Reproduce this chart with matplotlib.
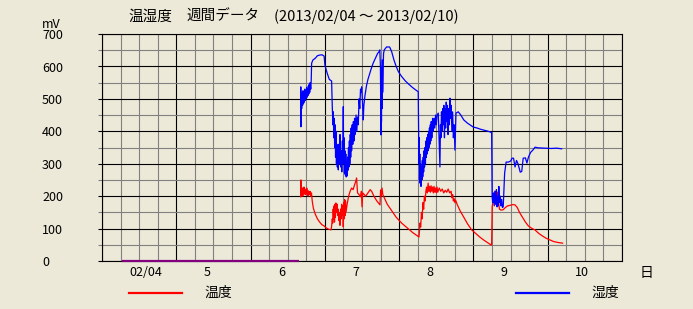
import matplotlib
matplotlib.use("Agg")
import matplotlib.pyplot as plt
import matplotlib.transforms as mtransforms
from matplotlib.lines import Line2D
import numpy as np

plt.rcParams['font.family'] = ['Noto Sans CJK JP', 'DejaVu Sans']

# ---------------- data ----------------
title_parts = ["温湿度", "週間データ", "(2013/02/04 ～ 2013/02/10)"]
y_unit = "mV"
x_unit = "日"
series_names = ["温度", "湿度"]
day_ticks = [4, 5, 6, 7, 8, 9, 10]
day_labels = ["02/04", "5", "6", "7", "8", "9", "10"]
y_ticks = [0, 100, 200, 300, 400, 500, 600, 700]
y_tick_labels = ["0", "100", "200", "300", "400", "500", "600", "700"]

# period without data (both series at 0)
nodata_days = [4.27, 6.65]
nodata_vals = [0, 0]

humid_days = [
    6.674, 6.676, 6.678, 6.682, 6.688, 6.694, 6.700, 6.706, 6.712, 6.718,
    6.724, 6.730, 6.736, 6.742, 6.748, 6.754, 6.760, 6.766, 6.772, 6.778,
    6.784, 6.790, 6.796, 6.802, 6.810, 6.816, 6.822, 6.840, 6.870, 6.900,
    6.930, 6.960, 6.990, 7.001, 7.030, 7.060, 7.091, 7.100, 7.108, 7.114,
    7.120, 7.126, 7.132, 7.138, 7.144, 7.150, 7.156, 7.162, 7.168, 7.174,
    7.181, 7.188, 7.196, 7.204, 7.212, 7.220, 7.228, 7.236, 7.242, 7.248,
    7.252, 7.258, 7.264, 7.270, 7.276, 7.282, 7.288, 7.293, 7.300, 7.306,
    7.312, 7.318, 7.324, 7.330, 7.336, 7.342, 7.348, 7.354, 7.360, 7.368,
    7.376, 7.384, 7.392, 7.400, 7.410, 7.420, 7.430, 7.440, 7.450, 7.460,
    7.470, 7.480, 7.490, 7.495, 7.505, 7.517, 7.525, 7.540, 7.560, 7.580,
    7.600, 7.620, 7.650, 7.680, 7.710, 7.728, 7.740, 7.748, 7.752, 7.755,
    7.758, 7.762, 7.766, 7.770, 7.774, 7.778, 7.790, 7.800, 7.830, 7.872,
    7.900, 7.930, 7.960, 7.990, 8.030, 8.080, 8.130, 8.180, 8.220, 8.257,
    8.262, 8.266, 8.270, 8.274, 8.278, 8.282, 8.288, 8.294, 8.300, 8.306,
    8.312, 8.318, 8.324, 8.330, 8.336, 8.342, 8.348, 8.354, 8.360, 8.366,
    8.372, 8.378, 8.384, 8.390, 8.396, 8.402, 8.408, 8.414, 8.420, 8.426,
    8.432, 8.440, 8.450, 8.460, 8.470, 8.480, 8.490, 8.500, 8.510, 8.527,
    8.549, 8.556, 8.562, 8.570, 8.578, 8.586, 8.594, 8.602, 8.610, 8.618,
    8.626, 8.634, 8.642, 8.650, 8.658, 8.666, 8.676, 8.684, 8.692, 8.700,
    8.710, 8.720, 8.730, 8.740, 8.751, 8.765, 8.796, 8.830, 8.870, 8.920,
    8.998, 9.050, 9.100, 9.150, 9.200, 9.245, 9.252, 9.260, 9.270, 9.280,
    9.290, 9.300, 9.310, 9.318, 9.326, 9.334, 9.342, 9.350, 9.360, 9.370,
    9.380, 9.390, 9.401, 9.420, 9.440, 9.470, 9.500, 9.520, 9.540, 9.560,
    9.580, 9.600, 9.630, 9.650, 9.670, 9.700, 9.720, 9.740, 9.770, 9.800,
    9.830, 9.870, 9.950, 10.050, 10.120, 10.187,
]
humid_vals = [
    476, 537, 414, 500, 470, 520, 480, 525, 485, 520,
    490, 530, 495, 525, 500, 535, 505, 530, 510, 540,
    515, 545, 520, 550, 530, 555, 610, 620, 625, 633,
    635, 636, 632, 604, 580, 560, 555, 476, 420, 460,
    380, 440, 350, 420, 320, 400, 300, 360, 290, 340,
    281, 360, 300, 390, 290, 340, 275, 370, 300, 476,
    320, 380, 271, 340, 265, 330, 259, 300, 262, 320,
    280, 350, 290, 370, 300, 390, 320, 410, 340, 420,
    360, 430, 370, 440, 390, 450, 400, 444, 420, 500,
    470, 530, 520, 537, 500, 435, 480, 510, 540, 560,
    575, 590, 610, 625, 640, 645, 651, 600, 500, 389,
    560, 430, 600, 470, 620, 520, 640, 651, 660, 660,
    645, 620, 600, 584, 570, 556, 545, 535, 528, 522,
    410, 300, 380, 250, 330, 240, 300, 230, 290, 250,
    310, 260, 320, 275, 340, 290, 350, 300, 370, 320,
    380, 330, 390, 340, 400, 350, 410, 360, 420, 370,
    430, 380, 440, 400, 440, 410, 450, 420, 450, 456,
    290, 420, 380, 460, 400, 470, 420, 480, 380, 470,
    410, 490, 430, 480, 390, 470, 420, 502, 440, 480,
    400, 460, 380, 420, 342, 456, 460, 450, 435, 425,
    413, 410, 406, 403, 400, 396, 198, 180, 210, 170,
    215, 175, 220, 167, 200, 170, 230, 180, 200, 170,
    190, 165, 167, 271, 305, 305, 308, 317, 317, 290,
    310, 300, 274, 276, 317, 318, 302, 320, 335, 342,
    351, 349, 348, 347, 348, 346,
]

temp_days = [
    6.674, 6.677, 6.680, 6.684, 6.690, 6.696, 6.702, 6.708, 6.714, 6.720,
    6.726, 6.732, 6.738, 6.744, 6.750, 6.756, 6.762, 6.768, 6.774, 6.780,
    6.790, 6.800, 6.810, 6.820, 6.830, 6.845, 6.870, 6.900, 6.930, 6.960,
    6.990, 7.020, 7.050, 7.082, 7.090, 7.100, 7.106, 7.112, 7.118, 7.124,
    7.130, 7.136, 7.142, 7.148, 7.156, 7.164, 7.172, 7.180, 7.188, 7.196,
    7.204, 7.212, 7.220, 7.226, 7.232, 7.240, 7.248, 7.254, 7.260, 7.266,
    7.272, 7.278, 7.284, 7.290, 7.300, 7.320, 7.340, 7.360, 7.380, 7.400,
    7.415, 7.427, 7.440, 7.460, 7.470, 7.480, 7.492, 7.500, 7.510, 7.530,
    7.550, 7.580, 7.610, 7.630, 7.660, 7.700, 7.742, 7.750, 7.760, 7.770,
    7.780, 7.800, 7.840, 7.900, 7.960, 8.033, 8.080, 8.130, 8.180, 8.230,
    8.267, 8.275, 8.280, 8.290, 8.300, 8.310, 8.320, 8.330, 8.340, 8.350,
    8.360, 8.370, 8.380, 8.390, 8.400, 8.410, 8.420, 8.430, 8.440, 8.450,
    8.460, 8.470, 8.480, 8.490, 8.500, 8.510, 8.520, 8.540, 8.560, 8.580,
    8.600, 8.620, 8.640, 8.660, 8.680, 8.700, 8.710, 8.720, 8.730, 8.740,
    8.750, 8.760, 8.780, 8.820, 8.870, 8.920, 8.976, 9.030, 9.080, 9.130,
    9.180, 9.220, 9.245, 9.252, 9.262, 9.270, 9.280, 9.290, 9.300, 9.310,
    9.320, 9.330, 9.340, 9.350, 9.370, 9.400, 9.430, 9.460, 9.500, 9.530,
    9.560, 9.590, 9.620, 9.660, 9.700, 9.740, 9.790, 9.828, 9.880, 9.930,
    9.980, 10.030, 10.080, 10.140, 10.200,
]
temp_vals = [
    198, 250, 200, 230, 205, 225, 200, 220, 205, 228,
    208, 222, 205, 220, 210, 225, 205, 218, 200, 215,
    205, 215, 200, 210, 185, 163, 145, 130, 120, 112,
    108, 102, 98, 96, 105, 130, 117, 160, 130, 170,
    120, 175, 135, 179, 150, 175, 140, 160, 125, 150,
    110, 160, 130, 175, 140, 170, 105, 180, 130, 190,
    140, 185, 150, 160, 175, 200, 215, 225, 220, 235,
    245, 256, 210, 205, 200, 198, 215, 167, 210, 205,
    200, 210, 220, 215, 200, 185, 173, 219, 200, 225,
    205, 195, 175, 155, 135, 117, 108, 98, 88, 80,
    74, 96, 117, 105, 150, 130, 180, 160, 200, 185,
    215, 228, 210, 240, 215, 230, 212, 232, 215, 228,
    210, 230, 212, 225, 210, 228, 212, 225, 215, 222,
    210, 218, 212, 222, 210, 215, 195, 205, 185, 192,
    180, 188, 175, 155, 135, 115, 96, 85, 75, 66,
    58, 52, 49, 167, 180, 200, 185, 215, 175, 205,
    195, 213, 180, 160, 157, 158, 165, 170, 172, 174,
    173, 165, 150, 135, 120, 108, 100, 96, 85, 77,
    70, 65, 60, 57, 55,
]

# ---------------- drawing ----------------
W, H = 693, 309
bg = "#ECE9D8"
fig = plt.figure(figsize=(W / 100, H / 100), dpi=100, facecolor=bg)

def fx(px):
    return px / W

def fy(py):
    return 1 - py / H

ax = fig.add_axes([fx(102), fy(261), fx(622) - fx(102), fy(34) - fy(261)])
ax.set_facecolor(bg)
ax.set_xlim(4, 11)
ax.set_ylim(0, 700)

# grid
ax.set_xticks(np.arange(4, 11.01, 1))
ax.set_xticks(np.arange(4, 11.01, 0.25), minor=True)
ax.set_yticks(y_ticks)
ax.set_yticks(np.arange(0, 701, 50), minor=True)
ax.grid(which='minor', color='#808080', linewidth=0.8, zorder=0)
ax.grid(which='major', color='black', linewidth=0.8, zorder=0.5)
ax.set_axisbelow(True)
ax.tick_params(which='both', length=0, labelbottom=False, labelleft=False)
ax.tick_params(axis='y', which='major', length=3, direction='out', color='black', width=0.8)
ax.tick_params(axis='y', which='minor', length=3, direction='out', color='#808080', width=0.8)
for s in ax.spines.values():
    s.set_color('black')
    s.set_linewidth(0.8)

ax.plot(nodata_days, nodata_vals, color='#800080', linewidth=1.6, zorder=5,
        clip_on=False, solid_capstyle='butt')
ax.plot(temp_days, temp_vals, color='#FF0000', linewidth=0.9, zorder=3)
ax.plot(humid_days, humid_vals, color='#0000FF', linewidth=0.9, zorder=4)

# y tick labels, left aligned
ytr = mtransforms.blended_transform_factory(fig.transFigure, ax.transData)
for v, lab in zip(y_ticks, y_tick_labels):
    ax.text(fx(42), v - 5, lab, transform=ytr, ha='left', va='center', fontsize=9,
            clip_on=False)

# x tick labels (day), left aligned inside each day interval
xtr = mtransforms.blended_transform_factory(ax.transData, fig.transFigure)
for d, lab in zip(day_ticks, day_labels):
    ax.text(d + 0.37, fy(273), lab, transform=xtr, ha='left', va='center',
            fontsize=9, clip_on=False)

fig.text(fx(646), fy(273), x_unit, ha='center', va='center', fontsize=10)
fig.text(fx(51), fy(24), y_unit, ha='center', va='center', fontsize=9)

# title (three parts, placed like the original's wide spacing)
for xpos, part in zip([128, 186, 274], title_parts):
    fig.text(fx(xpos), fy(17), part, ha='left', va='center', fontsize=10.5)

# legend
fig.add_artist(Line2D([fx(129), fx(182)], [fy(293), fy(293)], color='#FF0000', linewidth=1.6))
fig.text(fx(218), fy(293), series_names[0], ha='center', va='center', fontsize=10)
fig.add_artist(Line2D([fx(516), fx(569)], [fy(293), fy(293)], color='#0000FF', linewidth=1.6))
fig.text(fx(605), fy(293), series_names[1], ha='center', va='center', fontsize=10)

fig.savefig("out.png", dpi=100, facecolor=bg)
